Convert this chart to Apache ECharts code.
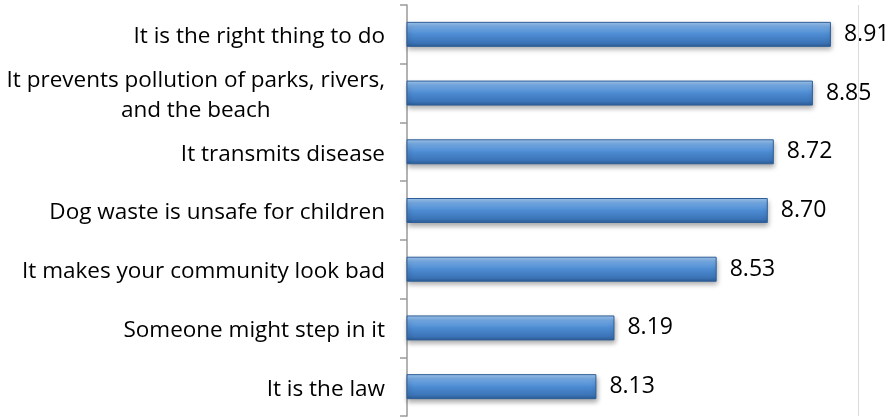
<!DOCTYPE html>
<html>
<head>
<meta charset="utf-8">
<script src="https://cdn.jsdelivr.net/npm/echarts@6/dist/echarts.min.js"></script>
<style>
  html, body { margin: 0; padding: 0; background: #fff; }
  #chart { width: 891px; height: 418px; }
</style>
</head>
<body>
<div id="chart"></div>
<script>
// Reasons for picking up after your dog (mean rating)
const reasons = [
  'It is the right thing to do',
  'It prevents pollution of parks, rivers,\nand the beach',
  'It transmits disease',
  'Dog waste is unsafe for children',
  'It makes your community look bad',
  'Someone might step in it',
  'It is the law'
];
const scores = [8.91, 8.85, 8.72, 8.70, 8.53, 8.19, 8.13];
const scaleMin = 7.5;
const scaleMax = 9.0;

const FONT = '"Open Sans", sans-serif';

const chart = echarts.init(document.getElementById('chart'), null, { renderer: 'canvas' });

chart.setOption({
  animation: false,
  grid: { left: 407, right: 33, top: 5, bottom: 2 },
  xAxis: {
    type: 'value',
    min: scaleMin,
    max: scaleMax,
    show: false,
    splitLine: { show: false }
  },
  yAxis: {
    type: 'category',
    inverse: true,
    data: reasons,
    axisLine: { show: true, lineStyle: { color: '#9a9a9a', width: 1.5 } },
    axisTick: { show: true, length: 7, lineStyle: { color: '#9a9a9a', width: 1.5 } },
    axisLabel: {
      margin: 22,
      color: '#000',
      fontFamily: FONT,
      fontSize: 22.5,
      lineHeight: 30,
      padding: [5, 0, 0, 0],
      formatter: function (v) {
        return v.split('\n').map(function (s) { return '{c|' + s + '}'; }).join('\n');
      },
      rich: {
        c: { align: 'center', color: '#000', fontFamily: FONT, fontSize: 22.5, lineHeight: 30 }
      }
    }
  },
  series: [{
    type: 'bar',
    data: scores,
    barWidth: 25,
    itemStyle: {
      color: new echarts.graphic.LinearGradient(0, 0, 0, 1, [
        { offset: 0, color: '#a3c9f1' },
        { offset: 0.2, color: '#74aae5' },
        { offset: 0.5, color: '#4d8bd2' },
        { offset: 0.85, color: '#3b73b6' },
        { offset: 1, color: '#2b5a93' }
      ]),
      borderColor: '#2f5f98',
      borderWidth: 1,
      shadowColor: 'rgba(0,0,0,0.35)',
      shadowBlur: 5,
      shadowOffsetY: 3,
      shadowOffsetX: 1
    },
    label: {
      show: true,
      position: 'right',
      distance: 13,
      color: '#000',
      fontFamily: FONT,
      fontSize: 23,
      padding: [4, 0, 0, 0],
      formatter: function (p) { return p.value.toFixed(2); }
    },
    markLine: {
      silent: true,
      symbol: 'none',
      label: { show: false },
      lineStyle: { color: '#dcdcdc', type: 'solid', width: 1 },
      data: [{ xAxis: scaleMax }]
    }
  }]
});
</script>
</body>
</html>
